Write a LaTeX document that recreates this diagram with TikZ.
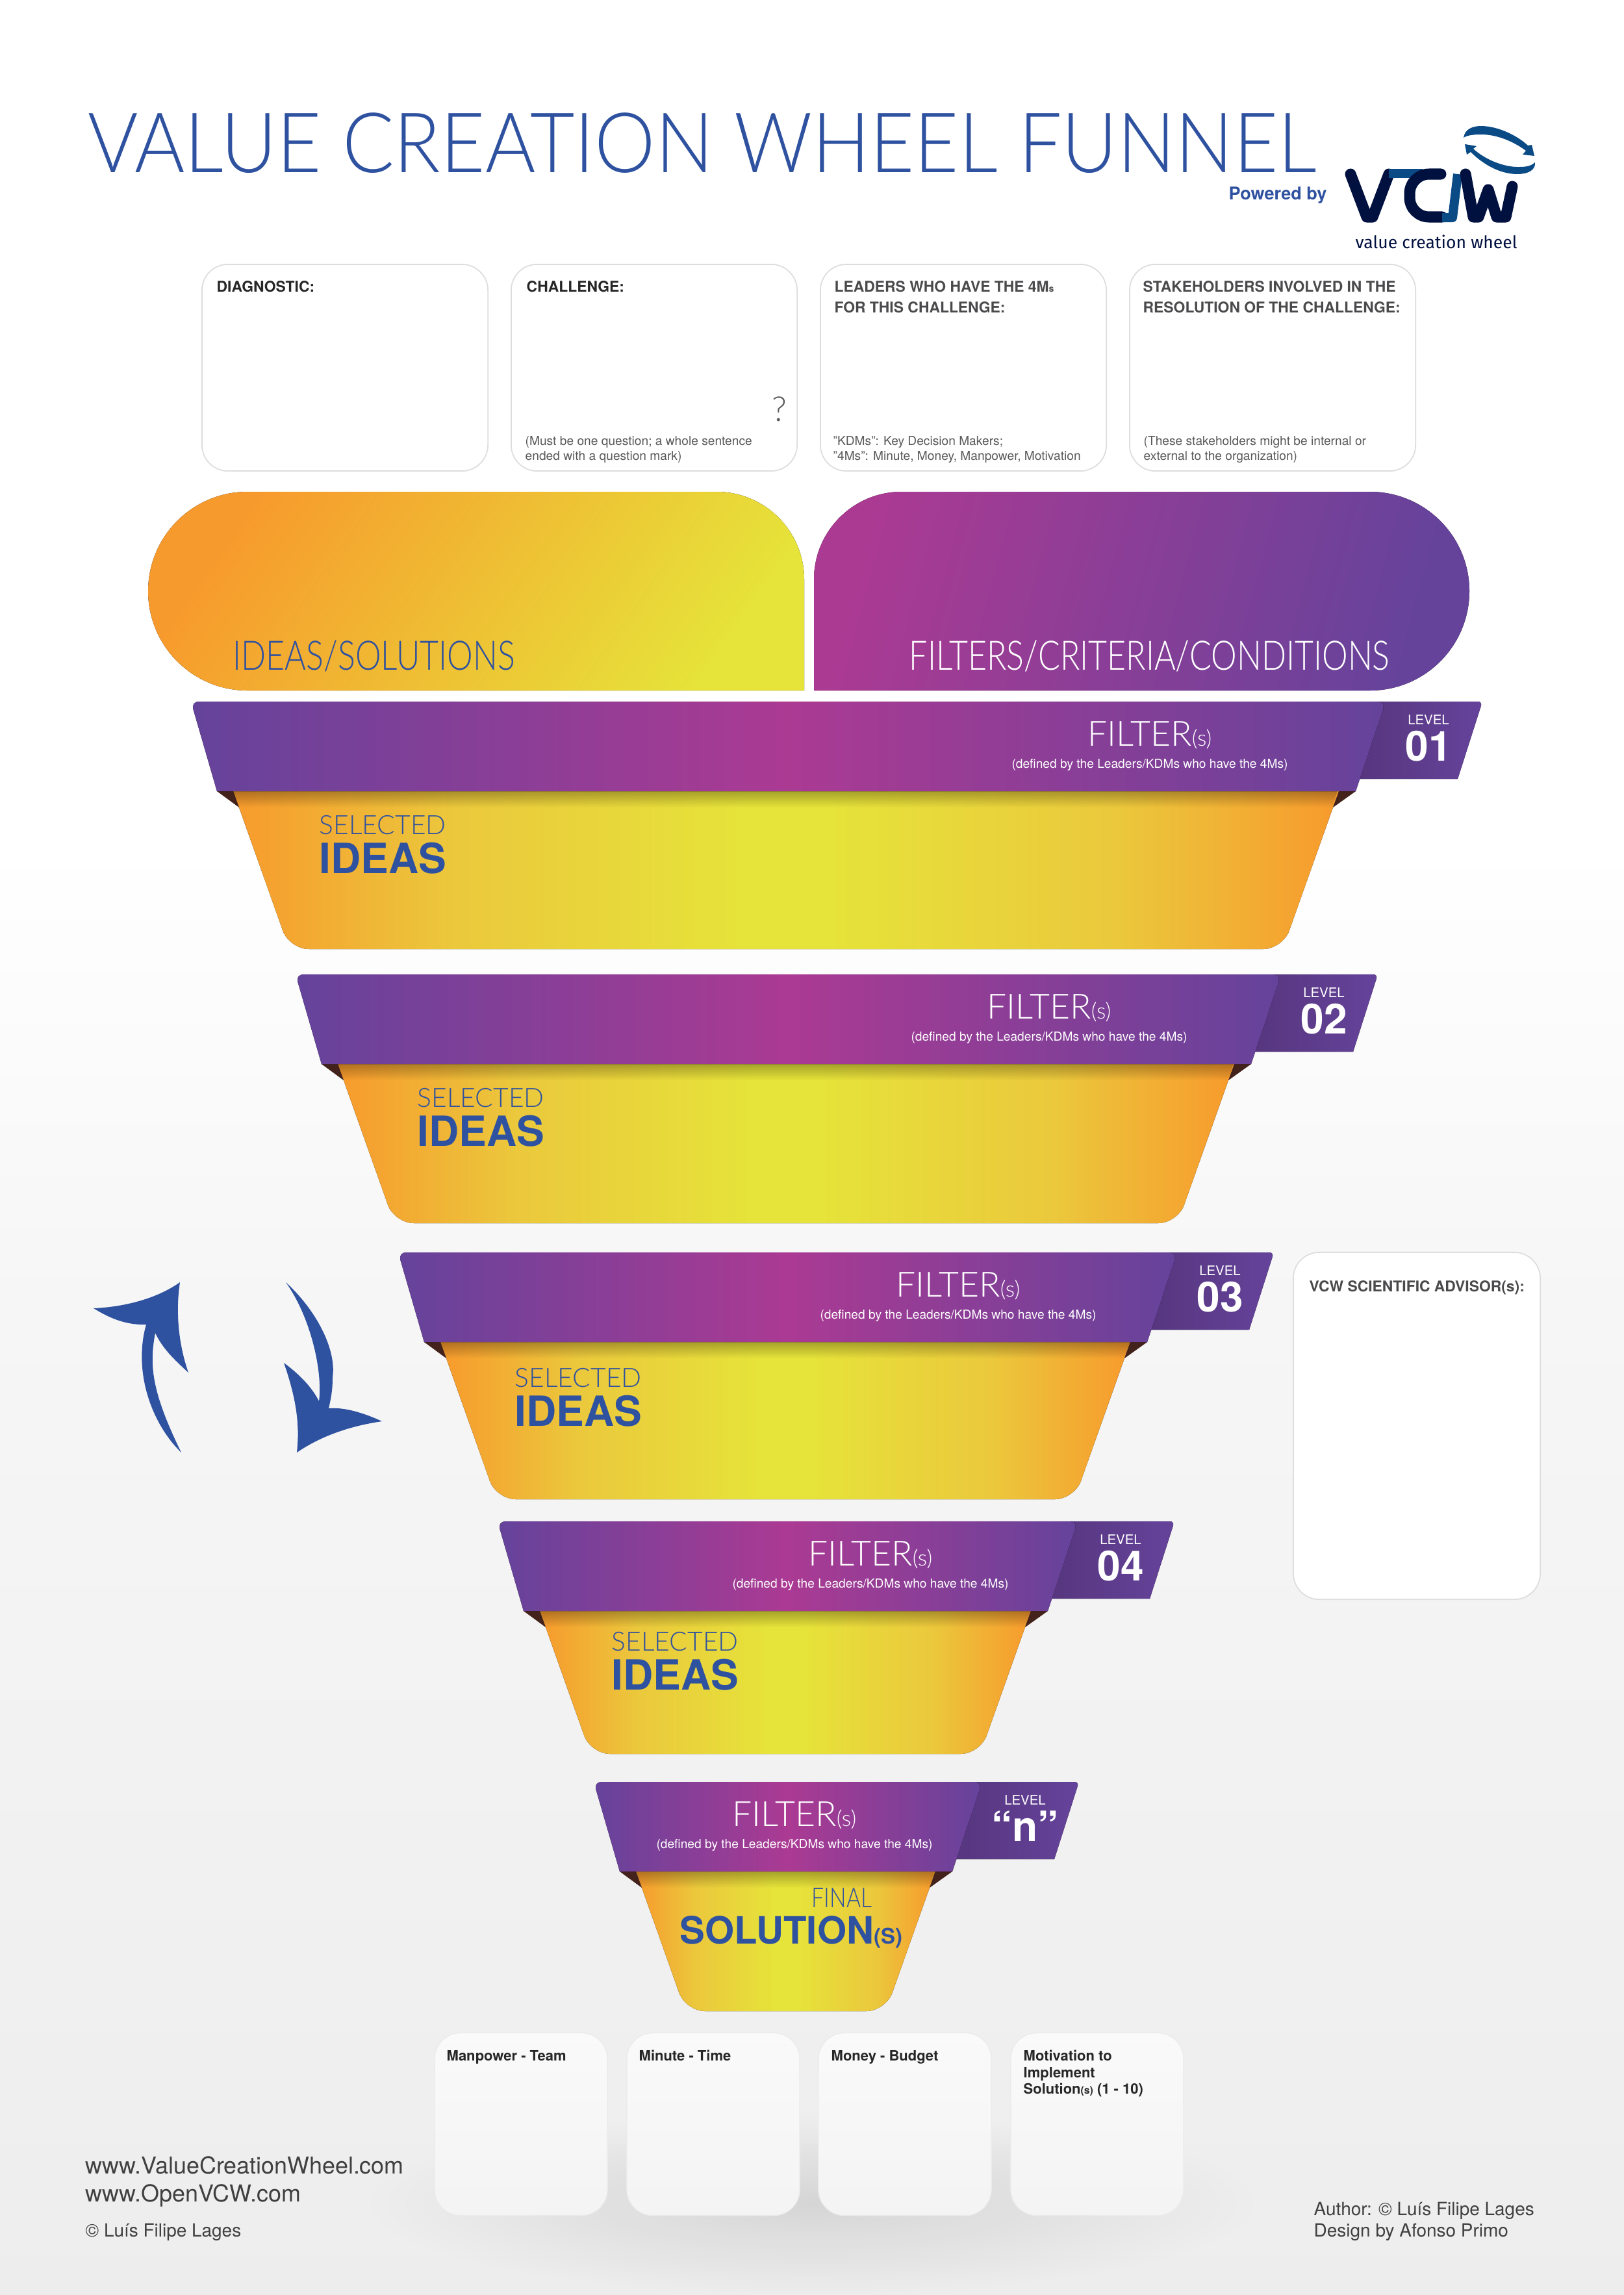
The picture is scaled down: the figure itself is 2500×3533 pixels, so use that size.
\documentclass[tikz,border=0pt]{standalone}
\usepackage{fontspec}
\setmainfont{TeX Gyre Heros}
\newfontfamily\lightfont{Lato Light}
\newfontfamily\titlefont[FakeStretch=0.92]{Lato Light}
\newfontfamily\narrowfont[FakeStretch=0.8]{Lato Light}
\newfontfamily\logofont{Fira Sans}
\usetikzlibrary{fadings,positioning}
\definecolor{vcwblue}{HTML}{2E51A0}
\definecolor{vcwnavy}{HTML}{00103F}
\definecolor{vcwsky}{HTML}{0A4A85}
\definecolor{vcwpurple}{HTML}{65439B}
\definecolor{vcwtab}{HTML}{57367F}
\definecolor{vcwmagenta}{HTML}{AB3A93}
\definecolor{vcworange}{HTML}{F79A2D}
\definecolor{vcwamber}{HTML}{EBC83C}
\definecolor{vcwyellow}{HTML}{E6E33A}
\definecolor{vcwbrown}{HTML}{42221B}
\definecolor{boxline}{HTML}{DCDDDE}
\definecolor{headgrey}{HTML}{4A4A4C}
\definecolor{notegrey}{HTML}{58585A}
\newcommand{\fsz}[1]{\fontsize{#1}{#1}\selectfont}
\tikzfading[name=softspot, inner color=transparent!0, outer color=transparent!100]
\pgfdeclarehorizontalshading{bodyglow}{100bp}{color(0bp)=(vcworange); color(25bp)=(vcworange); color(35bp)=(vcwamber); color(48bp)=(vcwyellow); color(52bp)=(vcwyellow); color(65bp)=(vcwamber); color(75bp)=(vcworange); color(100bp)=(vcworange)}
\tikzset{
  txt/.style={inner sep=0pt, anchor=base west},
  panel/.style={draw=boxline, line width=0.5pt, fill=white, rounded corners=4mm, minimum width=4.4cm, minimum height=3.18cm},
  foot/.style={draw=boxline!60, line width=0.4pt, top color=black!2, bottom color=black!4.5, rounded corners=4mm, minimum width=2.66cm, minimum height=2.81cm},
  boxhead/.style={txt, font=\bfseries\fsz{6.5}, text=headgrey, align=left},
  boxnote/.style={txt, font=\fsz{5.45}, text=notegrey},
  foothead/.style={txt, font=\bfseries\fsz{6.25}, text=black!85},
  thinblue/.style={txt, font=\lightfont\fsz{11.6}, text=vcwblue},
  fatblue/.style={txt, font=\bfseries\fsz{18.2}, text=vcwblue},
  credit/.style={txt, font=\fsz{7.95}, text=black!75},
  bandfill/.style={left color=vcwpurple, right color=vcwpurple, middle color=vcwmagenta}
}
% one funnel level: name, top y, left x, right x, bottom y, centre of filter text, level text
\newcommand{\funnelstep}[7]{
  \pgfmathsetmacro{\slant}{0.355*(#5-#2-163)}
  \fill[left color=vcwtab, right color=vcwpurple] (#4-40,#2+119) -- (#4-10,#2) [rounded corners=2pt] -- (#4+149,#2) [sharp corners] -- (#4+111,#2+119) -- cycle;
  \fill[shading=bodyglow] (#3+65,#2+138) -- (#3+74,#2+163) [rounded corners=3mm] -- (#3+74+\slant,#5) -- (#4-81-\slant,#5) [sharp corners] -- (#4-81,#2+163) -- (#4-72,#2+138) -- cycle;
  \fill[vcwbrown] (#3+40,#2+138) -- (#3+65,#2+138) -- (#3+74,#2+163) -- cycle;
  \fill[vcwbrown] (#4-46,#2+138) -- (#4-72,#2+138) -- (#4-81,#2+163) -- cycle;
  \fill[black, fill opacity=0.28, path fading=south] (#3+65,#2+138) -- (#3+74,#2+163) -- (#4-81,#2+163) -- (#4-72,#2+138) -- cycle;
  \fill[bandfill] (#3+40,#2+138) [rounded corners=1.2mm] -- (#3,#2) -- (#4,#2) [sharp corners] -- (#4-46,#2+138) -- cycle;
  \node[inner sep=0pt, anchor=base, text=white] (filter#1) at (#6,#2+68) {{\lightfont\fsz{15.2}FILTER}{\lightfont\fsz{9.6}(s)}};
  \node[inner sep=0pt, anchor=base, text=white, font=\fsz{5.45}] (defined#1) at (#6,#2+102) {(defined by the Leaders/KDMs who have the 4Ms)};
  \node[inner sep=0pt, anchor=base, text=white, font=\fsz{5.8}] (level#1) at (#4+66,#2+35) {LEVEL};
  \node[inner sep=0pt, anchor=base, text=white, font=\bfseries\fsz{18.2}] (levelno#1) at (#4+66,#2+91) {#7};
}
\begin{document}
\begin{tikzpicture}[x=0.01cm,y=-0.01cm]
\useasboundingbox (0,0) rectangle (2500,3533);
\fill[white] (0,0) rectangle (2500,1301);
\fill[top color=white, bottom color=black!3.5] (0,1300) rectangle (2500,2001);
\fill[top color=black!3.5, bottom color=black!7] (0,2000) rectangle (2500,3533);
\fill[black, fill opacity=0.1, path fading=softspot] (560,3250) rectangle (1940,3533);
% title and logo
\node[txt, font=\titlefont\fsz{36.5}, text=vcwblue] (title) at (135,265) {VALUE CREATION WHEEL FUNNEL};
\node[txt, font=\bfseries\fsz{7.7}, text=vcwblue] (powered) at (1891,307) {Powered by};
\draw[vcwnavy, line width=0.17cm, line join=round, line cap=round] (2079,268) -- (2104,334) -- (2113,334) -- (2138,268);
\draw[vcwsky, line width=0.14cm] (2138,267) -- (2190,267);
\draw[vcwnavy, line width=0.17cm, line cap=round, rounded corners=3mm] (2218,268) -- (2170,268) -- (2170,334) -- (2220,334);
\draw[vcwsky, line width=0.14cm, line join=round] (2220,335) -- (2236,335) -- (2244,268);
\draw[vcwnavy, line width=0.17cm, line join=round, line cap=round] (2256,268) -- (2268,334) -- (2276,334) -- (2291,292) -- (2304,334) -- (2318,334) -- (2328,287);
\fill[vcwsky] (2253,212) .. controls (2255,198) and (2268,194) .. (2280,194) .. controls (2305,194) and (2335,208) .. (2352,224) -- (2358,223) -- (2362,240) -- (2344,238) -- (2349,232) .. controls (2330,218) and (2305,207) .. (2280,207) .. controls (2270,207) and (2258,208) .. (2253,212) -- cycle;
\fill[vcwsky] (2363,250) .. controls (2364,262) and (2352,268) .. (2336,268) .. controls (2308,268) and (2282,252) .. (2264,234) -- (2258,238) -- (2255,222) -- (2273,225) -- (2268,229) .. controls (2285,245) and (2315,258) .. (2340,257) .. controls (2350,257) and (2358,255) .. (2363,250) -- cycle;
\node[txt, font=\logofont\fsz{7.55}, text=vcwnavy] (wheel) at (2086,382) {value creation wheel};
% top panels
\node[panel] (diagnostic) at (531,566) {};
\node[panel] (challenge) at (1007,566) {};
\node[panel] (leaders) at (1483,566) {};
\node[panel] (stakeholders) at (1959,566) {};
\node[boxhead, text=black!85] (diagnostictxt) at (333,449) {DIAGNOSTIC:};
\node[boxhead, text=black!85] (challengetxt) at (810,449) {CHALLENGE:};
\node[boxhead] (leaderstxt) at (1284,449) {LEADERS WHO HAVE THE 4M{\fsz{4}s}};
\node[boxhead] (leaderstxtb) at (1284,481) {FOR THIS CHALLENGE:};
\node[boxhead] (stakeholderstxt) at (1759,449) {STAKEHOLDERS INVOLVED IN THE};
\node[boxhead] (stakeholderstxtb) at (1759,481) {RESOLUTION OF THE CHALLENGE:};
\node[txt, font=\lightfont\fsz{15}, text=notegrey] (mark) at (1188,648) {?};
\node[boxnote] (challengenote) at (808,685) {(Must be one question; a whole sentence};
\node[boxnote] (challengenoteb) at (808,708) {ended with a question mark)};
\node[boxnote] (leadersnote) at (1282,685) {”KDMs”: Key Decision Makers;};
\node[boxnote] (leadersnoteb) at (1282,708) {”4Ms”: Minute, Money, Manpower, Motivation};
\node[boxnote] (stakeholdersnote) at (1760,685) {(These stakeholders might be internal or};
\node[boxnote] (stakeholdersnoteb) at (1760,708) {external to the organization)};
% two big headers
\fill[left color=vcworange, right color=vcwyellow, shading angle=55] (1238,1063) [rounded corners=1.53cm] -- (228,1063) -- (228,757) [rounded corners=1.35cm] -- (1238,757) [sharp corners] -- cycle;
\fill[left color=vcwmagenta, right color=vcwpurple, shading angle=75] (1253,1063) [rounded corners=1.35cm] -- (1253,757) [rounded corners=1.53cm] -- (2262,757) -- (2262,1063) [sharp corners] -- cycle;
\node[thinblue, font=\narrowfont\fsz{17.8}] (ideashead) at (358,1031) {IDEAS/SOLUTIONS};
\node[txt, font=\narrowfont\fsz{17.8}, text=white] (filtershead) at (1399,1031) {FILTERS/CRITERIA/CONDITIONS};
% funnel
\funnelstep{a}{1080}{294}{2133}{1461}{1770}{01}
\funnelstep{b}{1500}{455}{1972}{1883}{1615}{02}
\funnelstep{c}{1928}{613}{1812}{2308}{1475}{03}
\funnelstep{d}{2342}{766}{1659}{2700}{1340}{04}
\funnelstep{e}{2743}{914}{1512}{3096}{1223}{“n”}
\node[thinblue] (selecteda) at (491,1284) {SELECTED};
\node[fatblue] (ideasa) at (491,1344) {IDEAS};
\node[thinblue] (selectedb) at (642,1704) {SELECTED};
\node[fatblue] (ideasb) at (642,1764) {IDEAS};
\node[thinblue] (selectedc) at (792,2135) {SELECTED};
\node[fatblue] (ideasc) at (792,2195) {IDEAS};
\node[thinblue] (selectedd) at (941,2541) {SELECTED};
\node[fatblue] (ideasd) at (941,2601) {IDEAS};
\node[thinblue, font=\narrowfont\fsz{12}] (finale) at (1249,2936) {FINAL};
\node[fatblue, font=\bfseries\fsz{16.5}] (solutione) at (1046,2992) {SOLUTION{\fsz{9.4}(S)}};
% loop arrows
\fill[vcwblue] (279,2236) .. controls (232,2190) and (205,2110) .. (225,2039) .. controls (195,2040) and (170,2030) .. (144,2014) .. controls (190,2012) and (240,2000) .. (277,1974) .. controls (270,2020) and (275,2070) .. (290,2113) .. controls (265,2090) and (250,2075) .. (239,2052) .. controls (230,2100) and (232,2140) .. (279,2236) -- cycle;
\fill[vcwblue] (440,1974) .. controls (490,2020) and (518,2080) .. (512,2120) .. controls (512,2140) and (510,2150) .. (506,2168) .. controls (530,2166) and (560,2175) .. (588,2188) .. controls (540,2195) and (495,2210) .. (457,2236) .. controls (462,2190) and (455,2150) .. (437,2098) .. controls (460,2115) and (480,2135) .. (491,2157) .. controls (497,2115) and (480,2030) .. (440,1974) -- cycle;
% advisor
\node[panel, minimum width=3.8cm, minimum height=5.34cm] (advisor) at (2181,2195) {};
\node[boxhead] (advisortxt) at (2015,1988) {VCW SCIENTIFIC ADVISOR(s):};
% 4Ms
\node[foot] (manpower) at (802,3270) {};
\node[foot] (minute) at (1098,3270) {};
\node[foot] (money) at (1393,3270) {};
\node[foot] (motivation) at (1689,3270) {};
\node[foothead] (manpowertxt) at (687,3172) {Manpower - Team};
\node[foothead] (minutetxt) at (983,3172) {Minute - Time};
\node[foothead] (moneytxt) at (1279,3172) {Money - Budget};
\node[foothead] (motivationtxt) at (1575,3172) {Motivation to};
\node[foothead] (motivationtxtb) at (1575,3198) {Implement};
\node[foothead] (motivationtxtc) at (1575,3223) {Solution{\fsz{4.5}(s)} (1 - 10)};
% credits
\node[credit, font=\fsz{10.2}] (siteone) at (131,3346) {www.ValueCreationWheel.com};
\node[credit, font=\fsz{10.2}] (sitetwo) at (131,3389) {www.OpenVCW.com};
\node[credit] (copyright) at (131,3443) {© Luís Filipe Lages};
\node[credit] (author) at (2022,3410) {Author: © Luís Filipe Lages};
\node[credit] (design) at (2022,3443) {Design by Afonso Primo};
\end{tikzpicture}
\end{document}
